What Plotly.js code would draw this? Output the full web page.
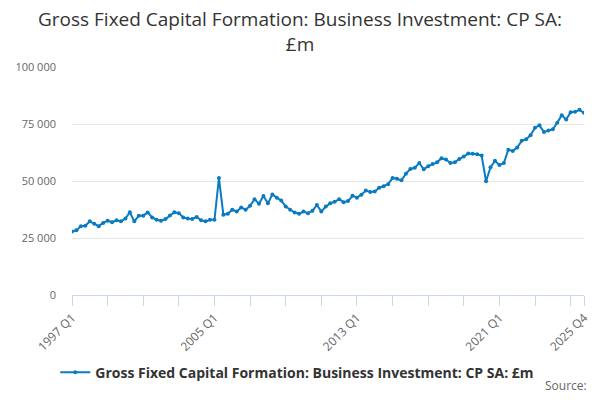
<!DOCTYPE html>
<html>
<head>
<meta charset="utf-8">
<script src="https://cdn.plot.ly/plotly-3.0.1.min.js"></script>
<style>html,body{margin:0;padding:0;background:#fff;}#chart{width:600px;height:400px;}</style>
</head>
<body>
<div id="chart"></div>
<script>
// Quarterly categories 1997 Q1 .. 2025 Q4
var startYear = 1997;
var endYear = 2025;
var categories = [];
for (var y = startYear; y <= endYear; y++) {
  for (var q = 1; q <= 4; q++) categories.push(y + " Q" + q);
}

// Business investment, current prices, seasonally adjusted, £m
var values = [
  27800, 28400, 30200, 30400, 32300, 31200, 30200, 31600,
  32600, 31900, 32800, 32300, 33500, 36300, 32300, 34800,
  34800, 36200, 34000, 33000, 32600, 33300, 34900, 36300,
  35900, 34000, 33500, 33300, 34200, 32800, 32300, 33000,
  33000, 51300, 35200, 35600, 37400, 36600, 38400, 37400,
  39100, 42000, 40000, 43400, 40200, 44100, 42700, 41400,
  38800, 37400, 36200, 35600, 36600, 35900, 36900, 39500,
  36600, 38800, 40200, 40900, 42000, 40700, 41200, 43500,
  42700, 44000, 45800, 45200, 45400, 47000, 47700, 48600,
  51300, 51000, 50300, 53200, 55300, 55800, 57900, 55100,
  56500, 57500, 58200, 60000, 59400, 57900, 58200, 59700,
  60700, 62100, 62000, 61700, 61200, 49900, 56000, 58900,
  57000, 57900, 63700, 63200, 64700, 67600, 68300, 70100,
  73400, 74400, 71500, 72100, 72700, 75600, 78800, 77000,
  80200, 80400, 81200, 79900
];

var seriesName = "Gross Fixed Capital Formation: Business Investment: CP SA: £m";
var titleText = "Gross Fixed Capital Formation: Business Investment: CP SA:<br>£m";

var xTickCats = [];
var xTickText = [];
var labelled = ["1997 Q1", "2005 Q1", "2013 Q1", "2021 Q1", "2025 Q4"];
for (var i = 0; i < categories.length; i += 8) {
  xTickCats.push(categories[i]);
}
xTickCats.push(categories[categories.length - 1]);
xTickCats.forEach(function (c) { xTickText.push(labelled.indexOf(c) >= 0 ? c : ""); });

var yTickVals = [0, 25000, 50000, 75000, 100000];
var yTickText = ["0", "25 000", "50 000", "75 000", "100 000"];

var trace = {
  x: categories,
  y: values,
  type: "scatter",
  mode: "lines+markers",
  name: seriesName,
  line: { color: "#0b7bc1", width: 2 },
  marker: { color: "#0b7bc1", size: 4 }
};

var layout = {
  width: 600,
  height: 400,
  margin: { l: 72, r: 16, t: 67, b: 102 },
  paper_bgcolor: "#ffffff",
  plot_bgcolor: "#ffffff",
  font: { family: "Open Sans, sans-serif", color: "#666666", size: 11 },
  title: {
    text: titleText,
    x: 0.5,
    xanchor: "center",
    xref: "container",
    yref: "container",
    y: 0.935,
    yanchor: "top",
    font: { size: 19, color: "#333333", family: "Open Sans, sans-serif" }
  },
  xaxis: {
    type: "category",
    range: [0, categories.length - 1],
    tickmode: "array",
    tickvals: xTickCats,
    ticktext: xTickText,
    tickangle: -45,
    ticks: "outside",
    ticklen: 10,
    tickcolor: "#ccd6eb",
    showline: true,
    linecolor: "#ccd6eb",
    linewidth: 1,
    showgrid: false,
    zeroline: false,
    tickfont: { size: 12, color: "#666666" },
    fixedrange: true
  },
  yaxis: {
    range: [0, 100000],
    tickmode: "array",
    tickvals: yTickVals,
    ticktext: yTickText,
    showgrid: true,
    gridcolor: "#e6e6e6",
    zeroline: false,
    showline: false,
    ticks: "",
    ticklabelstandoff: 15,
    tickfont: { size: 11, color: "#666666" },
    fixedrange: true
  },
  showlegend: true,
  legend: {
    orientation: "h",
    x: 0.44,
    xanchor: "center",
    y: -0.27,
    yanchor: "top",
    font: { size: 14, color: "#333333", weight: "bold" }
  },
  annotations: [{
    text: "Source:",
    xref: "paper",
    yref: "paper",
    x: 1.01,
    xanchor: "right",
    y: -0.395,
    yanchor: "middle",
    showarrow: false,
    font: { size: 12, color: "#666666" }
  }]
};

Plotly.newPlot("chart", [trace], layout, { displayModeBar: false, staticPlot: true });
</script>
</body>
</html>
